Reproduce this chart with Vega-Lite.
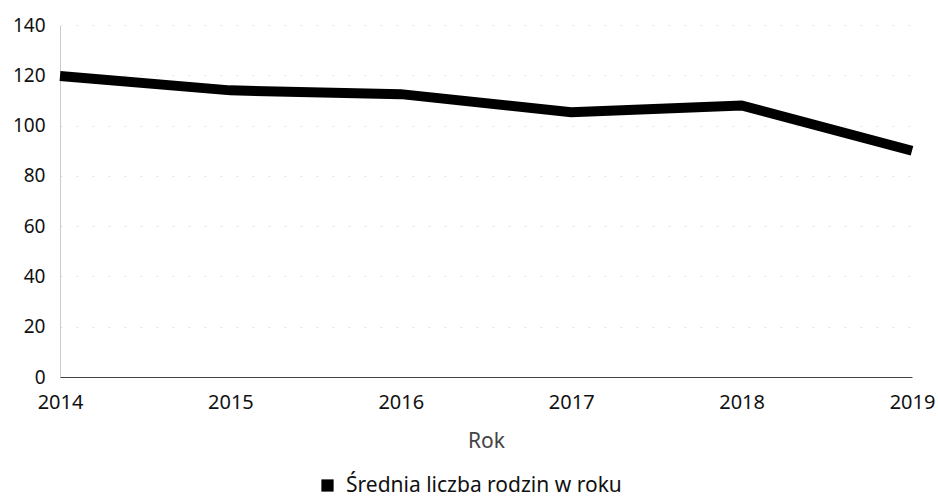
{
  "$schema": "https://vega.github.io/schema/vega-lite/v6.json",
  "autosize": "none",
  "width": 852,
  "height": 352,
  "padding": {"left": 60, "top": 25, "right": 26, "bottom": 120},
  "background": "white",
  "config": {
    "font": "Noto Sans",
    "view": {"stroke": null}
  },
  "data": {
    "values": [
      {"Rok": 2014, "wartosc": 119.7, "seria": "Średnia liczba rodzin w roku"},
      {"Rok": 2015, "wartosc": 114, "seria": "Średnia liczba rodzin w roku"},
      {"Rok": 2016, "wartosc": 112.5, "seria": "Średnia liczba rodzin w roku"},
      {"Rok": 2017, "wartosc": 105.3, "seria": "Średnia liczba rodzin w roku"},
      {"Rok": 2018, "wartosc": 108, "seria": "Średnia liczba rodzin w roku"},
      {"Rok": 2019, "wartosc": 90, "seria": "Średnia liczba rodzin w roku"}
    ]
  },
  "mark": {"type": "line", "strokeWidth": 10, "strokeJoin": "miter", "strokeCap": "butt"},
  "encoding": {
    "x": {
      "field": "Rok",
      "type": "quantitative",
      "scale": {"domain": [2014, 2019], "nice": false, "zero": false},
      "axis": {
        "values": [2014, 2015, 2016, 2017, 2018, 2019],
        "format": "d",
        "title": "Rok",
        "titleFont": "Noto Sans",
        "titleFontWeight": "normal",
        "titleFontSize": 21,
        "titleColor": "#444444",
        "titlePadding": 18,
        "labelFontSize": 20,
        "labelColor": "#111111",
        "labelPadding": 15,
        "labelFlush": false,
        "ticks": false,
        "grid": false,
        "domainColor": "#444444",
        "domainWidth": 1.2
      }
    },
    "y": {
      "field": "wartosc",
      "type": "quantitative",
      "scale": {"domain": [0, 140], "nice": false},
      "axis": {
        "values": [0, 20, 40, 60, 80, 100, 120, 140],
        "title": null,
        "labelFontSize": 19,
        "labelColor": "#111111",
        "labelPadding": 15,
        "ticks": false,
        "domainColor": "#999999",
        "domainDash": [1, 1],
        "grid": true,
        "gridColor": "#e4e4e4",
        "gridDash": [2, 14],
        "gridWidth": 1
      }
    },
    "color": {
      "field": "seria",
      "type": "nominal",
      "scale": {"range": ["#000000"]},
      "legend": {
        "title": null,
        "orient": "none",
        "legendX": 257,
        "legendY": 450,
        "symbolType": "square",
        "symbolFillColor": "#000000",
        "symbolStrokeColor": "#000000",
        "symbolSize": 150,
        "symbolStrokeWidth": 0,
        "labelOffset": 8,
        "labelFontSize": 21,
        "labelColor": "#111111",
        "labelLimit": 400
      }
    }
  }
}
